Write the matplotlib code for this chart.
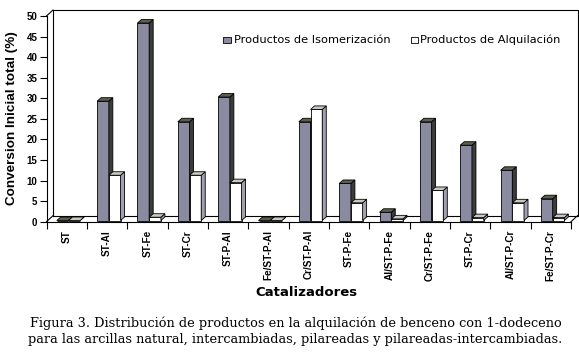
import numpy as np
import matplotlib
matplotlib.use("Agg")
import matplotlib.pyplot as plt
from matplotlib.patches import Rectangle

# datos
catalizadores = ["ST", "ST-Al", "ST-Fe", "ST-Cr", "ST-P-Al", "Fe/ST-P-Al", "Cr/ST-P-Al",
                 "ST-P-Fe", "Al/ST-P-Fe", "Cr/ST-P-Fe", "ST-P-Cr", "Al/ST-P-Cr", "Fe/ST-P-Cr"]
isomerizacion = [0, 29, 48, 24, 30, 0, 24, 9, 2, 24, 18.3, 12.2, 5.3]
alquilacion = [0, 11, 0.8, 11, 9.2, 0, 27, 4.3, 0.4, 7.3, 0.7, 4.3, 0.7]
yticks = [0, 5, 10, 15, 20, 25, 30, 35, 40, 45, 50]

W, H = 579, 354
fig = plt.figure(figsize=(W/100, H/100), dpi=100)
fig.patch.set_facecolor("white")
ax = fig.add_axes([46.5/W, 1-221.7/H, (571-46.5)/W, (221.7-16)/H])
ax.set_xlim(-0.5, len(catalizadores)-0.5)
ax.set_ylim(0, 50)
ax.patch.set_alpha(0)

# conversion pixeles -> datos
pxx = (571-46.5)/len(catalizadores)
pxy = (221.7-16)/50.0
dxw, dyw = 6.5/pxx, 6/pxy        # profundidad del piso/pared
dxb, dyb = 4/pxx, 3.5/pxy        # profundidad de las barras
by0 = 1.2/pxy

# pared trasera y piso
x0, x1 = -0.5, len(catalizadores)-0.5
lk = dict(color="black", lw=0.8, clip_on=False, zorder=1)
ax.plot([x0+dxw, x0+dxw, x1+dxw, x1+dxw], [dyw, 50+dyw, 50+dyw, dyw], **lk)
ax.plot([x0+dxw, x1+dxw], [dyw, dyw], **lk)
ax.plot([x0, x0+dxw], [0, dyw], **lk)
ax.plot([x0, x0+dxw], [50, 50+dyw], **lk)
ax.plot([x1, x1+dxw], [0, dyw], **lk)

def barra3d(xc, val, w, cara, lado, tapa, z):
    b = ax.bar(xc, val, width=w, bottom=by0, color=cara, edgecolor="black",
               lw=0.6, zorder=z)[0]
    L, B = b.get_x(), b.get_y()
    R, T = L + b.get_width(), B + b.get_height()
    ax.fill([R, R+dxb, R+dxb, R], [B, B+dyb, T+dyb, T], facecolor=lado,
            edgecolor="black", lw=0.6, zorder=z, clip_on=False)
    ax.fill([L, R, R+dxb, L+dxb], [T, T, T+dyb, T+dyb], facecolor=tapa,
            edgecolor="black", lw=0.6, zorder=z, clip_on=False)

x = np.arange(len(catalizadores))
wb = 11.7/pxx
for i in range(len(catalizadores)):
    barra3d(x[i]-0.1, isomerizacion[i], wb, "#8a8aa0", "#3c3c3c", "#5e5e4c", 3+2*i)
    barra3d(x[i]-0.1+wb, alquilacion[i], wb, "white", "#a0a0b0", "#c8c8c0", 4+2*i)

# ejes
for s in ["top", "right"]:
    ax.spines[s].set_visible(False)
ax.spines["left"].set_linewidth(0.8)
ax.spines["bottom"].set_linewidth(0.8)
ax.set_yticks(yticks)
ax.set_yticklabels([str(v) for v in yticks], fontsize=7, fontweight="bold",
                   family="Liberation Sans")
ax.tick_params(axis="y", length=5, width=0.8, pad=1.5)
ax.set_xticks(x)
ax.set_xticklabels(catalizadores, rotation=90, fontsize=7.2, fontweight="bold",
                   family="Liberation Sans")
ax.set_xticks(np.arange(len(catalizadores)+1)-0.5, minor=True)
ax.tick_params(axis="x", which="major", length=0, pad=6)
ax.tick_params(axis="x", which="minor", length=5, width=0.8)

fig.text(12/W, 1-118/H, "Conversion Inicial total (%)", rotation=90, ha="center",
         va="center", fontsize=9.7, fontweight="bold", family="Liberation Sans")
fig.text(306/W, 1-292/H, "Catalizadores", ha="center", va="center", fontsize=9.5,
         fontweight="bold", family="DejaVu Sans")

# leyenda
fig.patches.append(Rectangle((223/W, 1-43/H), 7.5/W, 6/H, transform=fig.transFigure,
                             facecolor="#8a8aa0", edgecolor="black", lw=0.6))
fig.text(234/W, 1-40/H, "Productos de Isomerización", ha="left", va="center",
         fontsize=8.2, family="DejaVu Sans")
fig.patches.append(Rectangle((411/W, 1-43/H), 7/W, 6/H, transform=fig.transFigure,
                             facecolor="white", edgecolor="black", lw=0.6))
fig.text(420/W, 1-40/H, "Productos de Alquilación", ha="left", va="center",
         fontsize=8.2, family="DejaVu Sans")

# pie de figura
fig.text(30/W, 1-323/H, "Figura 3. Distribución de productos en la alquilación de benceno con 1-dodeceno",
         ha="left", va="center", fontsize=9.3, family="DejaVu Serif")
fig.text(28/W, 1-339/H, "para las arcillas natural, intercambiadas, pilareadas y pilareadas-intercambiadas.",
         ha="left", va="center", fontsize=9.3, family="DejaVu Serif")

fig.savefig("out.png", dpi=100)
